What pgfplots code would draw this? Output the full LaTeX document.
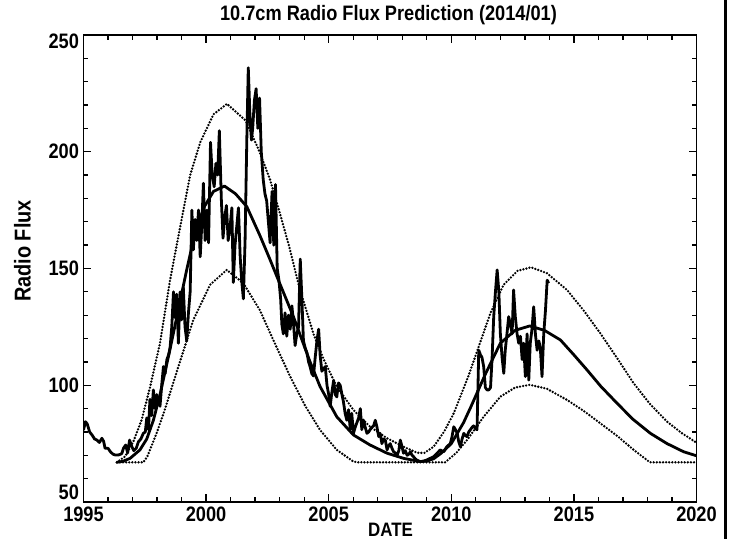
\documentclass[border=0pt]{standalone}
\usepackage{fontspec}
\setmainfont{Liberation Sans}[FakeStretch=0.87]
\usepackage{pgfplots}
\pgfplotsset{compat=1.18}
\begin{document}
\begin{tikzpicture}[x=1bp,y=1bp]
\begin{axis}[
  at={(0,0)}, anchor=south west,
  scale only axis, width=613bp, height=467bp,
  xmin=1995, xmax=2020, ymin=50, ymax=250,
  xtick={1995,2000,2005,2010,2015,2020},
  ytick={50,100,150,200,250},
  minor x tick num=4, minor y tick num=4,
  tick align=inside,
  major tick length=8bp, minor tick length=5bp,
  every tick/.style={line width=1.3bp, black},
  axis line style={line width=1.6bp},
  /pgf/number format/assume math mode=true,
  /pgf/number format/1000 sep={},
  ticklabel style={font=\fontsize{21}{21}\selectfont\bfseries},
  xticklabel style={yshift=-1bp},
  yticklabel style={xshift=-1bp},
  yticklabel={\pgfmathparse{\tick==250 ? -6 : (\tick==50 ? 10 : 0)}\edef\myshift{\pgfmathresult}\raisebox{\myshift bp}[\height][\depth]{\pgfmathprintnumber{\tick}}},
  clip=true,
]
% upper bound (dotted)
\addplot[black, line width=2.6bp, line cap=round, dash pattern=on 0pt off 3.1bp] coordinates {
(1996.36,67) (1996.7,69.5) (1997.03,75.8) (1997.37,85.1) (1997.71,99) (1998.12,118) (1998.53,145) (1998.8,160) (1999.35,190) (1999.76,204) (2000.3,216) (2000.85,220.5) (2001.61,213.4) (2002.18,200) (2002.61,188) (2003.0,174) (2003.39,159.4) (2003.8,142) (2004.38,122) (2004.8,111) (2005.33,99.4) (2006.01,89.4) (2006.69,82.2) (2007.38,77.3) (2008.05,73.7) (2008.6,71.1) (2008.9,71) (2009.28,73.7) (2009.7,80) (2010.1,88) (2010.7,104) (2011.3,122) (2011.6,131) (2012.13,143) (2012.7,149) (2013.25,150.5) (2013.9,148) (2014.72,140.8) (2015.4,132) (2016.08,122.2) (2016.8,111) (2017.44,100.8) (2018.1,92) (2018.8,84.4) (2019.4,79.5) (2020,75.4)
};
% lower bound (dotted)
\addplot[black, line width=2.6bp, line cap=round, dash pattern=on 0pt off 3.1bp] coordinates {
(1996.36,67) (1997.44,67) (1997.6,69.4) (1998.0,80) (1998.3,89) (1998.6,99) (1998.9,109) (1999.48,128) (2000.16,143) (2000.84,149.4) (2001.52,143.7) (2002.2,132) (2002.8,118) (2003.43,103.7) (2004.05,91) (2004.65,80.8) (2005.33,72.3) (2006.01,67.3) (2006.2,67) (2009.75,67) (2010.2,71) (2010.64,76.5) (2011.32,86.5) (2012.0,95.1) (2012.6,99) (2013.2,100.2) (2013.9,98.5) (2014.72,93.7) (2015.4,89) (2016.08,83.7) (2016.8,78) (2017.44,72.3) (2018.1,67) (2020,67)
};
% predicted (solid smooth)
\addplot[black, line width=2.8bp, line join=round] coordinates {
(1996.36,67) (1996.6,67.4) (1996.9,68.7) (1997.3,72.3) (1997.58,77) (1997.85,85) (1998.12,96) (1998.5,114) (1998.9,134) (1999.2,149) (1999.5,163) (1999.9,176) (2000.3,183) (2000.75,185.3) (2001.2,182) (2001.66,176.5) (2002.2,164) (2002.6,154) (2002.89,146.5) (2003.56,129.4) (2004.24,110) (2004.65,99.4) (2005.33,86.5) (2006.01,78.7) (2006.69,74.4) (2007.38,70.9) (2008.05,68.7) (2008.73,67.3) (2009.0,67.6) (2009.28,68.5) (2009.6,71) (2010.0,75) (2010.5,84) (2010.8,90.8) (2011.4,105) (2012.0,118) (2012.6,123.5) (2013.2,125.4) (2013.8,123.5) (2014.45,119.4) (2015.0,113) (2015.54,106.5) (2016.1,99.5) (2016.76,92.3) (2017.4,85.5) (2018.12,79.4) (2018.8,75) (2019.48,71.5) (2020,69.8)
};
% observed (monthly)
\addplot[black, line width=2.8bp, line join=round] coordinates {
(1995.00,80.8) (1995.08,84.4) (1995.15,83.5) (1995.25,80) (1995.35,78.7) (1995.45,77) (1995.55,76.5) (1995.65,75.5) (1995.75,77.3) (1995.82,76) (1995.88,73) (1996.00,73) (1996.10,71.5) (1996.20,70.5) (1996.30,70.1) (1996.45,70.2) (1996.56,70.7) (1996.63,73) (1996.72,74.4) (1996.80,71) (1996.88,76.5) (1996.96,74) (1997.05,72) (1997.15,73) (1997.24,75.8) (1997.34,77) (1997.44,79.4) (1997.52,80) (1997.58,86) (1997.65,81) (1997.71,94) (1997.78,87) (1997.85,98) (1997.92,90) (1997.99,96) (1998.05,93) (1998.12,91) (1998.19,100) (1998.26,108) (1998.33,105) (1998.40,111) (1998.47,113) (1998.53,116) (1998.60,125) (1998.67,140) (1998.73,129) (1998.80,139) (1998.87,118) (1998.94,140) (1999.00,128) (1999.07,142) (1999.14,125) (1999.21,119) (1999.28,131) (1999.35,140) (1999.42,175) (1999.48,158) (1999.55,171) (1999.62,162) (1999.69,175) (1999.76,155) (1999.83,170) (1999.89,186.5) (1999.96,162) (2000.03,175) (2000.10,161) (2000.18,204) (2000.25,190) (2000.33,185) (2000.40,195) (2000.47,190) (2000.54,209) (2000.62,180) (2000.69,163) (2000.76,172) (2000.83,177) (2000.90,162) (2000.97,167) (2001.05,176) (2001.11,144) (2001.18,160) (2001.25,168) (2001.32,176) (2001.39,155) (2001.45,145) (2001.52,137) (2001.59,162) (2001.66,205) (2001.72,236) (2001.79,215) (2001.85,205) (2001.90,210) (2001.97,222) (2002.04,227) (2002.11,210) (2002.18,223) (2002.25,200) (2002.33,188) (2002.40,182) (2002.47,179) (2002.54,170) (2002.61,161) (2002.69,183) (2002.76,160) (2002.83,186) (2002.90,150) (2002.97,145) (2003.04,137) (2003.09,126) (2003.15,122) (2003.22,131) (2003.29,121) (2003.36,130) (2003.43,124) (2003.50,134) (2003.56,127) (2003.63,117) (2003.70,122) (2003.77,125) (2003.84,154) (2003.91,136) (2003.97,119) (2004.04,116) (2004.11,114) (2004.18,110) (2004.24,108) (2004.31,105) (2004.38,104) (2004.45,112) (2004.52,119) (2004.59,124) (2004.65,113) (2004.72,106) (2004.79,107) (2004.86,108) (2004.93,100) (2005.00,96) (2005.06,91) (2005.13,97) (2005.20,102) (2005.27,96) (2005.33,95) (2005.40,101) (2005.47,100) (2005.54,96) (2005.60,93) (2005.67,88) (2005.74,85) (2005.81,89.5) (2005.88,81) (2005.94,88) (2006.01,79.4) (2006.08,82) (2006.15,84) (2006.22,86) (2006.29,90) (2006.35,81) (2006.42,85) (2006.49,82) (2006.56,79.4) (2006.63,80) (2006.69,81) (2006.76,82) (2006.83,82.6) (2006.90,85) (2006.97,82) (2007.04,78) (2007.10,79.4) (2007.17,75) (2007.24,77) (2007.31,76.5) (2007.38,72.3) (2007.44,74) (2007.51,75) (2007.58,73) (2007.65,71.5) (2007.72,71) (2007.79,70) (2007.86,72) (2007.92,76.5) (2007.99,73.7) (2008.05,70.9) (2008.12,72) (2008.20,70) (2008.27,70.5) (2008.33,71.5) (2008.40,70) (2008.46,69.4) (2008.53,68.5) (2008.60,67.9) (2008.73,67.3) (2008.87,67.5) (2009.00,68) (2009.14,68.7) (2009.28,69.4) (2009.42,70.9) (2009.55,72.3) (2009.69,71.5) (2009.82,73.7) (2009.96,75) (2010.03,78) (2010.10,82.2) (2010.17,81) (2010.24,79.4) (2010.30,76) (2010.37,73.7) (2010.44,77) (2010.51,79.4) (2010.57,78.5) (2010.64,78) (2010.71,80) (2010.78,81) (2010.85,82) (2010.91,82.6) (2010.98,81.5) (2011.05,81) (2011.12,115) (2011.19,113) (2011.25,112) (2011.32,108) (2011.39,99) (2011.46,98) (2011.53,98) (2011.60,99) (2011.66,110.8) (2011.73,129.4) (2011.80,140) (2011.87,149.4) (2011.94,140) (2012.00,122.2) (2012.07,112) (2012.14,105.1) (2012.20,115) (2012.27,122) (2012.34,129.4) (2012.41,126) (2012.48,122) (2012.54,140.8) (2012.61,129.4) (2012.68,122.2) (2012.75,118) (2012.82,121) (2012.89,111) (2012.95,118) (2013.02,103.7) (2013.09,122) (2013.16,102.2) (2013.22,118) (2013.29,124) (2013.36,133.6) (2013.43,122) (2013.50,115) (2013.57,119) (2013.63,116) (2013.70,103.7) (2013.77,122) (2013.84,132) (2013.91,145) (2013.97,143.7)
};
\end{axis}
\node[font=\fontsize{21}{21}\selectfont\bfseries] at (305bp,487bp) {10.7cm Radio Flux Prediction (2014/01)};
\node[font=\fontsize{23}{23}\selectfont\bfseries, rotate=90] at (-61bp,251bp) {Radio Flux};
\node[font=\fontsize{19.5}{19.5}\selectfont\bfseries] at (307bp,-27.5bp) {DATE};
\draw[line width=2.5bp] (642bp,-40bp) -- (642bp,505bp);
\pgfresetboundingbox
\path[use as bounding box] (-83.5bp,-37bp) rectangle (646.5bp,502bp);
\end{tikzpicture}
\end{document}
